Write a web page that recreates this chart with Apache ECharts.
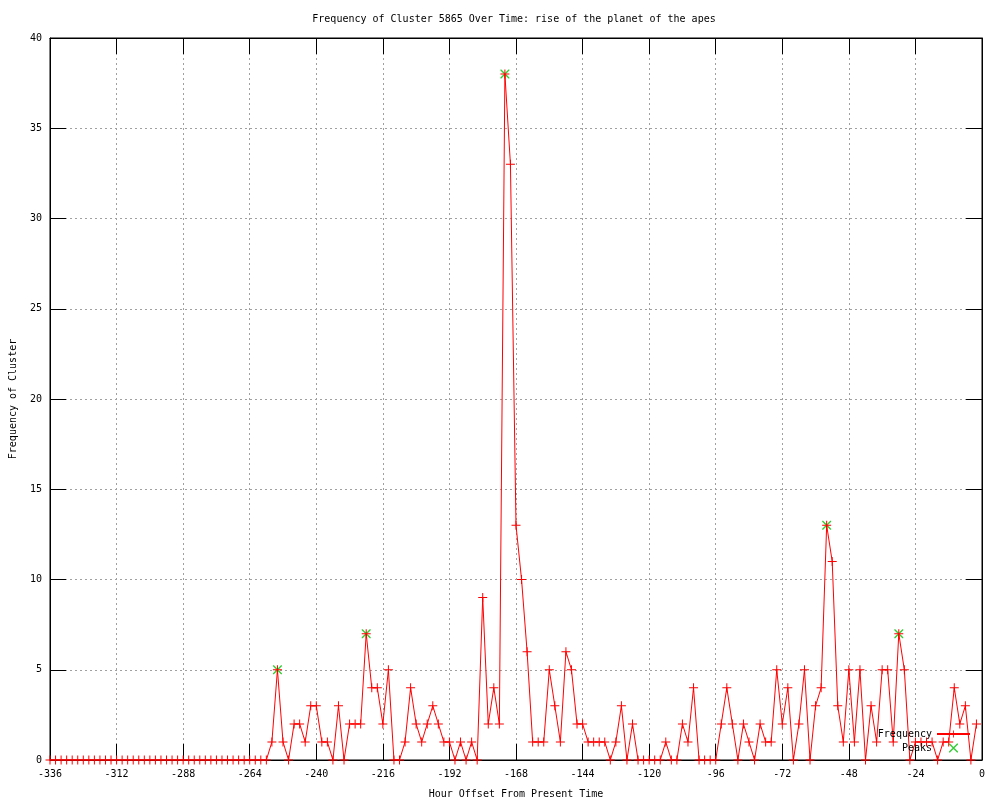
<!DOCTYPE html>
<html><head><meta charset="utf-8">
<script src="https://cdn.jsdelivr.net/npm/echarts@6/dist/echarts.min.js"></script>
<style>html,body{margin:0;padding:0;background:#fff}#c{width:1000px;height:800px}</style>
</head><body><div id="c"></div><script>
const titleText = 'Frequency of Cluster 5865 Over Time: rise of the planet of the apes';
const xName = 'Hour Offset From Present Time';
const yName = 'Frequency of Cluster';

const hours = [
 -336,-334,-332,-330,-328,-326,-324,-322,-320,-318,-316,-314,-312,-310,-308,-306,-304,-302,-300,-298,
 -296,-294,-292,-290,-288,-286,-284,-282,-280,-278,-276,-274,-272,-270,-268,-266,-264,-262,-260,-258,
 -256,-254,-252,-250,-248,-246,-244,-242,-240,-238,-236,-234,-232,-230,-228,-226,-224,-222,-220,-218,
 -216,-214,-212,-210,-208,-206,-204,-202,-200,-198,-196,-194,-192,-190,-188,-186,-184,-182,-180,-178,
 -176,-174,-172,-170,-168,-166,-164,-162,-160,-158,-156,-154,-152,-150,-148,-146,-144,-142,-140,-138,
 -136,-134,-132,-130,-128,-126,-124,-122,-120,-118,-116,-114,-112,-110,-108,-106,-104,-102,-100,-98,
 -96,-94,-92,-90,-88,-86,-84,-82,-80,-78,-76,-74,-72,-70,-68,-66,-64,-62,-60,-58,
 -56,-54,-52,-50,-48,-46,-44,-42,-40,-38,-36,-34,-32,-30,-28,-26,-24,-22,-20,-18,
 -16,-14,-12,-10,-8,-6,-4,-2
];
const frequency = [
 0,0,0,0,0,0,0,0,0,0,0,0,0,0,0,0,0,0,0,0,
 0,0,0,0,0,0,0,0,0,0,0,0,0,0,0,0,0,0,0,0,
 1,5,1,0,2,2,1,3,3,1,1,0,3,0,2,2,2,7,4,4,
 2,5,0,0,1,4,2,1,2,3,2,1,1,0,1,0,1,0,9,2,
 4,2,38,33,13,10,6,1,1,1,5,3,1,6,5,2,2,1,1,1,
 1,0,1,3,0,2,0,0,0,0,0,1,0,0,2,1,4,0,0,0,
 0,2,4,2,0,2,1,0,2,1,1,5,2,4,0,2,5,0,3,4,
 13,11,3,1,5,1,5,0,3,1,5,5,1,7,5,0,1,1,1,1,
 0,1,1,4,2,3,0,2
];
const peakHours = [-254, -222, -172, -56, -30];
const peakValues = [5, 7, 38, 13, 7];

const xTicks = { min: -336, max: 0, interval: 24 };
const yTicks = { min: 0, max: 40, interval: 5 };

const FONT = 'DejaVu Sans Mono';
const txt = { fontFamily: FONT, fontSize: 10, color: '#000' };
const plusPath = 'path://M0,4H9V5H0Z M4,0H5V9H4Z';
const crossPath = 'path://M0,0L1,0L9,8L9,9L8,9L0,1Z M9,0L9,1L1,9L0,9L0,8L8,0Z';

const freqData = hours.map((h, i) => [h, frequency[i]]);
const peakData = peakHours.map((h, i) => [h, peakValues[i]]);

const chart = echarts.init(document.getElementById('c'), null, { renderer: 'canvas' });
const tickStyle = { show: true, inside: true, length: 16, lineStyle: { color: '#000', width: 1 } };
const axisLine = { show: true, onZero: false, lineStyle: { color: '#000', width: 1 } };
const gridLine = { show: true, lineStyle: { color: '#a0a0a0', width: 1, type: [2, 3] } };

chart.setOption({
  animation: false,
  backgroundColor: '#fff',
  title: { text: titleText, left: 509, top: 9, textAlign: 'center',
    textStyle: Object.assign({ fontWeight: 'normal' }, txt) },
  grid: { left: 50, right: 18, top: 38, bottom: 40, show: true, borderColor: '#000', borderWidth: 1,
    containLabel: false, outerBoundsMode: 'none' },
  legend: {
    data: ['Frequency', { name: 'Peaks', itemStyle: { color: '#00c000' } }],
    orient: 'vertical', right: 24, top: 724, align: 'right',
    itemWidth: 33, itemHeight: 9, itemGap: 4, textStyle: txt
  },
  xAxis: [
    { type: 'value', position: 'bottom', min: xTicks.min, max: xTicks.max, interval: xTicks.interval,
      name: xName, nameLocation: 'middle', nameGap: 29, nameTextStyle: txt,
      axisLine: axisLine, axisTick: tickStyle, axisLabel: Object.assign({ margin: 9 }, txt), splitLine: gridLine },
    { type: 'value', position: 'top', min: xTicks.min, max: xTicks.max, interval: xTicks.interval,
      axisLine: axisLine, axisTick: tickStyle, axisLabel: { show: false }, splitLine: { show: false } }
  ],
  yAxis: [
    { type: 'value', position: 'left', min: yTicks.min, max: yTicks.max, interval: yTicks.interval,
      name: yName, nameLocation: 'middle', nameGap: 32, nameRotate: 90, nameTextStyle: txt,
      axisLine: axisLine, axisTick: tickStyle, axisLabel: Object.assign({ margin: 8 }, txt), splitLine: gridLine },
    { type: 'value', position: 'right', min: yTicks.min, max: yTicks.max, interval: yTicks.interval,
      axisLine: axisLine, axisTick: tickStyle, axisLabel: { show: false }, splitLine: { show: false } }
  ],
  series: [
    { name: 'Peaks', type: 'scatter', data: peakData, symbol: crossPath, symbolSize: 9,
      itemStyle: { color: '#00c000' } },
    { name: 'Frequency', type: 'line', data: freqData, symbol: plusPath, symbolSize: 9, showAllSymbol: true,
      lineStyle: { color: '#ff0000', width: 1 }, itemStyle: { color: '#ff0000' } }
  ]
});
</script></body></html>
